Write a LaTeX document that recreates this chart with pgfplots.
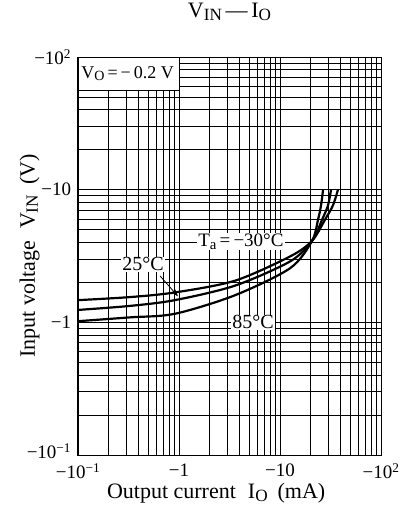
\documentclass[border=0pt]{standalone}
\usepackage{fontspec}
\setmainfont{Liberation Serif}
\usepackage{graphicx}
\usepackage{pgfplots}
\pgfplotsset{compat=1.18}
\usetikzlibrary{arrows.meta}

\newcommand{\fs}[1]{\fontsize{#1}{#1}\selectfont}
\newcommand{\sub}[1]{\raisebox{-0.3ex}{\scalebox{0.78}{#1}}}

\begin{document}%
\fs{20}%
\begin{tikzpicture}[every node/.append style={font=\fs{20}}]
\path[use as bounding box] (-78pt,-67pt) rectangle (328pt,455pt);
\begin{axis}[
    at={(0,0)}, anchor=south west,
    width=303pt, height=398pt, scale only axis,
    xmode=log, ymode=log,
    xmin=0.1, xmax=100, ymin=0.1, ymax=100,
    xtick={0.1,1,10,100},
    xticklabels={−10\textsuperscript{−1},−1,−10,−10\textsuperscript{2}},
    ytick={0.1,1,10,100},
    yticklabels={\raisebox{4pt}[\height][\depth]{−10\textsuperscript{−1}},−1,−10,−10\textsuperscript{2}},
    tick label style={font=\fs{19}},
    x tick label style={yshift=-2pt},
    label style={font=\fs{22}},
    title style={font=\fs{22}},
    grid=both,
    major grid style={black, line width=0.8pt},
    minor grid style={black, line width=0.8pt},
    tick style={draw=none},
    axis line style={line width=1pt},
    title={V\sub{IN}\,—\,I\sub{O}},
    title style={at={(axis description cs:0.5,1.098)}, anchor=center},
    xlabel={Output current\hspace{12pt}I\sub{O}\hspace{10pt}(mA)},
    xlabel style={at={(axis description cs:0.456,-0.097)}, anchor=center},
    ylabel={Input voltage\hspace{12pt}V\sub{IN}\hspace{10pt}(V)},
    ylabel style={at={(axis description cs:-0.16,0.5)}, anchor=center},
]

% Ta = -30 C
\addplot[smooth, line width=2.2pt] coordinates {
    (0.1,1.47) (0.327,1.55) (0.91,1.68) (3.58,2.06) (12.6,3.14)
    (20.7,4.10) (27.9,5.94) (33.5,7.64) (37.5,10)
};
% 25 C
\addplot[smooth, line width=2.2pt] coordinates {
    (0.1,1.24) (0.327,1.33) (0.91,1.47) (3.58,1.89) (12.6,2.88)
    (20.7,4.10) (26.1,5.94) (29.9,7.64) (32,10)
};
% 85 C
\addplot[smooth, line width=2.2pt] coordinates {
    (0.1,1.02) (0.327,1.09) (0.91,1.16) (3.58,1.60) (12.6,2.56)
    (20.7,4.10) (23.8,5.94) (25.5,7.64) (26.7,10)
};

\draw[fill=white, line width=0.8pt] (axis cs:0.1,100) rectangle (axis cs:1,56);
\node[font=\fs{18}] at (axis cs:0.31,74.8) {V\sub{O}\,=\,−\,0.2 V};

\node[fill=white, inner sep=1pt, font=\fs{19}] at (axis cs:4.1,4.05) {T\sub{a}\,=\,−30°C};
\node[fill=white, inner sep=1pt] at (axis cs:0.44,2.74) {25°C};
\draw[-{Stealth[length=7pt,width=5pt]}, line width=0.8pt]
    (axis cs:0.649,2.24) -- (axis cs:0.977,1.57);
\node[fill=white, inner sep=1pt] at (axis cs:5.4,1.0) {85°C};

\end{axis}
\end{tikzpicture}%
\end{document}
